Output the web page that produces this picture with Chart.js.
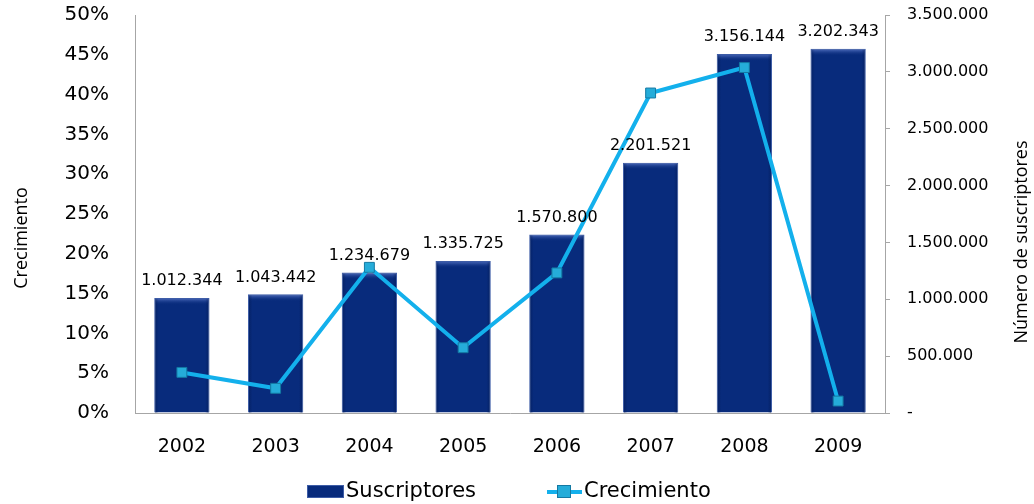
<!DOCTYPE html>
<html><head><meta charset="utf-8">
<script src="https://cdn.jsdelivr.net/npm/chart.js@4"></script>
<style>html,body{margin:0;padding:0;background:#fff}</style></head>
<body><canvas id="c" width="1034" height="504"></canvas>
<script>
const categories = ['2002','2003','2004','2005','2006','2007','2008','2009'];
const suscriptores = [1012344,1043442,1234679,1335725,1570800,2201521,3156144,3202343];
const crecimiento = [5.1,3.1,18.3,8.2,17.6,40.2,43.4,1.5];
const leftAxisTitle = 'Crecimiento';
const rightAxisTitle = 'Número de suscriptores';
const seriesNames = ['Suscriptores','Crecimiento'];

const FONT = '"DejaVu Sans", sans-serif';
const TFONT = '"Open Sans", sans-serif';
const fmt = n => n === 0 ? '-' : String(Math.round(n)).replace(/\B(?=(\d{3})+(?!\d))/g, '.');

const extras = {
  id: 'extras',
  afterDatasetDraw(chart, args) {
    if (args.index !== 1) return;
    const ctx = chart.ctx;
    ctx.save();
    args.meta.data.forEach(el => {
      const w = el.width, x0 = el.x - w / 2, y0 = el.y;
      const g = ctx.createLinearGradient(0, y0, 0, y0 + 7);
      g.addColorStop(0, 'rgba(90,120,200,0.95)');
      g.addColorStop(1, 'rgba(8,43,124,0)');
      ctx.fillStyle = g;
      ctx.fillRect(x0 + 1, y0 + 1, w - 2, 7);
      const gl = ctx.createLinearGradient(x0, 0, x0 + w, 0);
      gl.addColorStop(0, 'rgba(0,20,70,0.45)');
      gl.addColorStop(0.08, 'rgba(0,20,70,0)');
      gl.addColorStop(0.92, 'rgba(0,20,70,0)');
      gl.addColorStop(1, 'rgba(0,20,70,0.45)');
      ctx.fillStyle = gl;
      ctx.fillRect(x0 + 1, y0 + 1, w - 2, chart.chartArea.bottom - y0 - 1);
    });
    ctx.restore();
  },
  afterDatasetsDraw(chart) {
    const ctx = chart.ctx;
    const meta = chart.getDatasetMeta(1);
    ctx.save();
    ctx.fillStyle = '#000';
    ctx.font = '16px ' + FONT;
    ctx.textAlign = 'center';
    ctx.textBaseline = 'middle';
    meta.data.forEach((el, i) => {
      ctx.fillText(fmt(suscriptores[i]), el.x, el.y - 17);
    });
    ctx.restore();
  },
  afterDraw(chart) {
    const ctx = chart.ctx;
    ctx.save();
    ctx.fillStyle = '#000';
    ctx.font = '18px ' + TFONT;
    ctx.textAlign = 'center';
    ctx.textBaseline = 'middle';
    ctx.translate(22, 238); ctx.rotate(-Math.PI/2); ctx.fillText(leftAxisTitle, 0, 0);
    ctx.setTransform(1,0,0,1,0,0);
    ctx.translate(1022, 242); ctx.rotate(-Math.PI/2); ctx.fillText(rightAxisTitle, 0, 0);
    ctx.setTransform(1,0,0,1,0,0);
    // legend
    ctx.font = '21px ' + FONT;
    ctx.textAlign = 'left';
    const ly = 492;
    ctx.fillStyle = '#082b7c';
    ctx.fillRect(307, ly - 7, 37, 13);
    ctx.strokeStyle = '#3d5ca6'; ctx.lineWidth = 1;
    ctx.strokeRect(307.5, ly - 6.5, 36, 12);
    ctx.fillStyle = '#000';
    ctx.fillText(seriesNames[0], 346, ly);
    ctx.strokeStyle = '#13b0ec'; ctx.lineWidth = 4;
    ctx.beginPath(); ctx.moveTo(547, ly); ctx.lineTo(582, ly); ctx.stroke();
    ctx.fillStyle = '#25acd9'; ctx.fillRect(557, ly - 7, 14, 13);
    ctx.strokeStyle = '#1479a3'; ctx.lineWidth = 1; ctx.strokeRect(557.5, ly - 6.5, 13, 12);
    ctx.fillStyle = '#000';
    ctx.fillText(seriesNames[1], 584, ly);
    ctx.restore();
  }
};

function noPad(s) { s.paddingTop = 0; s.paddingBottom = 0; }

new Chart(document.getElementById('c'), {
  data: {
    labels: categories,
    datasets: [
      {
        type: 'line', label: seriesNames[1], data: crecimiento, yAxisID: 'y', order: 1,
        borderColor: '#13b0ec', borderWidth: 4, tension: 0,
        pointStyle: 'rect', pointRadius: 7, pointHoverRadius: 7,
        pointBackgroundColor: '#25acd9', pointBorderColor: '#1479a3', pointBorderWidth: 1
      },
      {
        type: 'bar', label: seriesNames[0], data: suscriptores, yAxisID: 'y1', order: 2,
        backgroundColor: '#082b7c', borderColor: '#3d5ca6', borderWidth: 1,
        categoryPercentage: 1, barPercentage: 0.59
      }
    ]
  },
  options: {
    responsive: false, animation: false, devicePixelRatio: 1,
    layout: { autoPadding: false, padding: { top: 15, left: 0, right: 0, bottom: 0 } },
    plugins: { legend: { display: false }, tooltip: { enabled: false } },
    scales: {
      x: {
        position: 'bottom',
        grid: { display: false, drawTicks: false },
        border: { display: true, color: '#a6a6a6' },
        ticks: { color: '#000', font: { family: FONT, size: 19 }, padding: 23, maxRotation: 0 },
        afterFit(s) { s.height = 91; s.paddingLeft = 0; s.paddingRight = 0; }
      },
      y: {
        position: 'left', min: 0, max: 50,
        grid: { display: false, drawTicks: false },
        border: { display: true, color: '#a6a6a6' },
        ticks: { stepSize: 5, color: '#000', font: { family: FONT, size: 20 }, padding: 26, callback: v => v + '%' },
        afterFit(s) { s.width = 135; noPad(s); }
      },
      y1: {
        position: 'right', min: 0, max: 3500000,
        grid: { drawOnChartArea: false, drawTicks: true, tickLength: 5, color: '#a6a6a6' },
        border: { display: true, color: '#a6a6a6' },
        ticks: { stepSize: 500000, color: '#000', font: { family: FONT, size: 16 }, padding: 17, callback: v => fmt(v) },
        afterFit(s) { s.width = 149; noPad(s); }
      }
    }
  },
  plugins: [extras]
});
</script></body></html>
